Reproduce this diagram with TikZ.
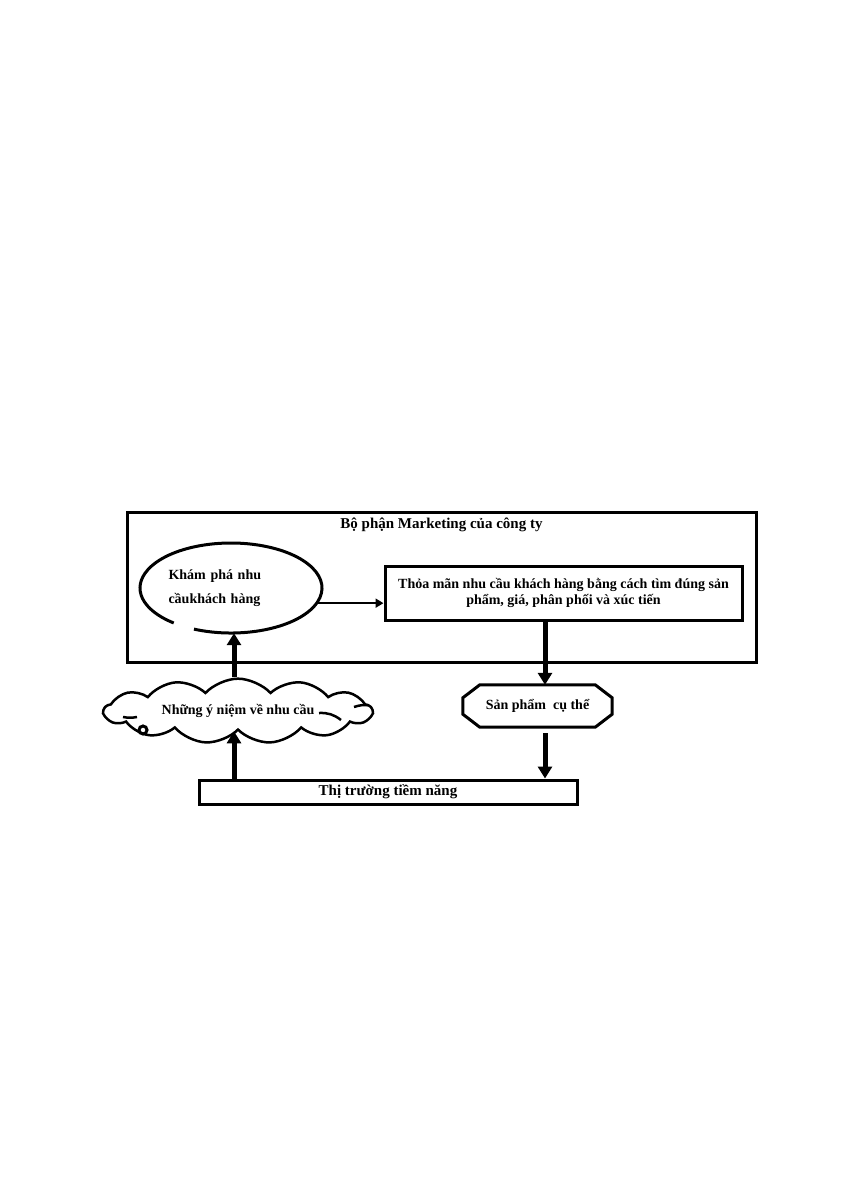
\documentclass[tikz,border=0pt]{standalone}
\usepackage{fontspec}
\setmainfont{Liberation Serif}
\usetikzlibrary{arrows.meta,positioning,shapes.geometric,shapes.symbols}

\begin{document}
\begin{tikzpicture}[x=1pt, y=1pt,
        box/.style={draw, line width=3pt, rectangle, inner sep=0pt},
        txt/.style={font=\bfseries\fontsize{14}{15.5}\selectfont},
        headtxt/.style={font=\bfseries\fontsize{15}{17}\selectfont},
        bigarrow/.style={line width=5pt, -{Triangle[width=14pt,length=12pt]}},
        smallarrow/.style={line width=2.4pt, -{Triangle[width=9pt,length=8pt]}}]
        \useasboundingbox (0,0) rectangle (841,-1191);
        %\draw[gray, dashed] (0,0) grid[step=50] (841,-1191);

        \node[box, minimum width=629pt, minimum height=150pt] (dept) at (441.5,-587) {};
        \node[headtxt, below=7pt of dept.north, inner sep=0pt] (deptTitle) {Bộ phận Marketing của công ty};

        \node[ellipse, minimum width=182pt, minimum height=90pt, inner sep=0pt,
            text width=125pt, align=left, font=\bfseries\fontsize{14}{24}\selectfont] (need) at (231,-588) {Khám phá nhu\\cầukhách hàng};
        \draw[line width=3pt] (need.center) ++(246:91 and 45) arc[start angle=246, end angle=591, x radius=91, y radius=45];

        \node[box, minimum width=357pt, minimum height=54pt, txt, align=center] (sat) at (563.5,-593)
            {Thỏa mãn nhu cầu khách hàng bằng cách tìm đúng sản\\phẩm, giá, phân phối và xúc tiến};

        \node[rectangle, minimum width=149pt, minimum height=42pt, inner sep=0pt, txt] (prod) at (537.5,-706) {Sản phẩm\ \ cụ thể};
        \draw[line width=3pt] ([xshift=17pt]prod.north west) -- ([xshift=-17pt]prod.north east)
            -- ([yshift=-13pt]prod.north east) -- ([yshift=13pt]prod.south east)
            -- ([xshift=-17pt]prod.south east) -- ([xshift=17pt]prod.south west)
            -- ([yshift=13pt]prod.south west) -- ([yshift=-13pt]prod.north west) -- cycle;

        \node[box, minimum width=378pt, minimum height=24pt, headtxt] (market) at (388,-792) {Thị trường tiềm năng};

        \node[cloud, draw, line width=2.5pt, cloud puffs=13, cloud puff arc=95, aspect=5,
            minimum width=268pt, minimum height=42pt, inner sep=0pt, txt] (idea) at (238,-711) {Những ý niệm về nhu cầu};
        \draw[line width=2.5pt] (123,-717) to[bend right=10] (137,-717);
        \draw[line width=2.5pt] (354,-707) to[bend left=10] (368,-705);
        \draw[line width=2.5pt] (319,-713) to[bend left=20] (341,-720);
        \draw[line width=3pt] (143,-730) circle (4);

        \coordinate (upx) at (234,0);
        \coordinate (dropx) at (545,0);
        \coordinate (gapTop) at ([yshift=-6pt]prod.south);

        \draw[bigarrow] (market.north -| upx) -- (upx |- idea.south);
        \draw[bigarrow] (upx |- idea.north) -- (upx |- need.south);
        \draw[smallarrow] (need.-10) -- (need.-10 -| sat.west);
        \draw[bigarrow] (sat.south -| dropx) -- (dropx |- prod.north);
        \draw[bigarrow] (gapTop -| dropx) -- (dropx |- market.north);
    \end{tikzpicture}
\end{document}
